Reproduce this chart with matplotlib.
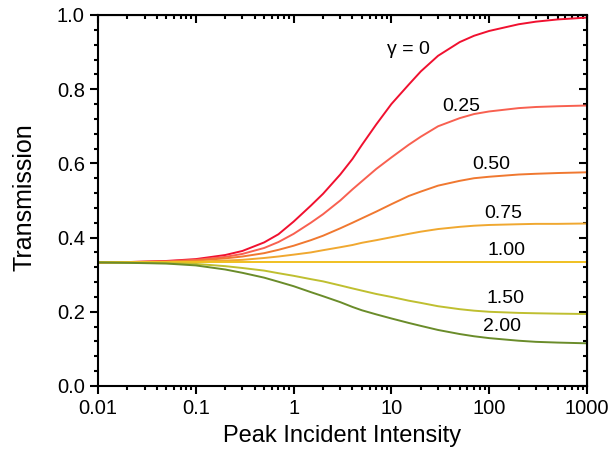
import matplotlib
matplotlib.use("Agg")
import matplotlib.pyplot as plt
from matplotlib.ticker import FixedLocator, LogLocator, NullFormatter, AutoMinorLocator

plt.rcParams['font.family'] = ['Liberation Sans', 'DejaVu Sans']

# peak incident intensity
intensity = [0.01, 0.02, 0.05, 0.1, 0.2, 0.3, 0.5, 0.7, 1, 1.5, 2, 3, 4, 5, 7,
             10, 15, 20, 30, 50, 70, 100, 200, 300, 500, 1000]

t_g000 = [0.333, 0.334, 0.337, 0.342, 0.353, 0.364, 0.387, 0.409, 0.443, 0.486, 0.518, 0.570, 0.612,
          0.650, 0.705, 0.760, 0.812, 0.848, 0.890, 0.927, 0.944, 0.957, 0.975, 0.982, 0.988, 0.993]
t_g025 = [0.333, 0.334, 0.336, 0.340, 0.348, 0.356, 0.372, 0.388, 0.410, 0.440, 0.463, 0.500, 0.530,
          0.552, 0.585, 0.616, 0.650, 0.672, 0.700, 0.722, 0.733, 0.740, 0.749, 0.752, 0.754, 0.756]
t_g050 = [0.333, 0.334, 0.335, 0.338, 0.344, 0.349, 0.358, 0.367, 0.378, 0.393, 0.405, 0.425, 0.440,
          0.452, 0.470, 0.490, 0.512, 0.524, 0.540, 0.553, 0.560, 0.564, 0.570, 0.572, 0.574, 0.576]
t_g075 = [0.333, 0.333, 0.334, 0.335, 0.338, 0.340, 0.345, 0.349, 0.354, 0.360, 0.366, 0.374, 0.380,
          0.386, 0.393, 0.401, 0.410, 0.416, 0.423, 0.429, 0.432, 0.434, 0.436, 0.437, 0.437, 0.438]
t_g100 = [0.333] * len(intensity)
t_g150 = [0.333, 0.332, 0.331, 0.329, 0.323, 0.318, 0.311, 0.304, 0.297, 0.288, 0.282, 0.271, 0.263,
          0.257, 0.248, 0.240, 0.230, 0.224, 0.215, 0.207, 0.203, 0.200, 0.197, 0.196, 0.195, 0.194]
t_g200 = [0.333, 0.332, 0.330, 0.325, 0.314, 0.305, 0.292, 0.281, 0.269, 0.253, 0.242, 0.226, 0.213,
          0.204, 0.193, 0.182, 0.170, 0.162, 0.151, 0.140, 0.134, 0.129, 0.122, 0.119, 0.117, 0.115]

series = [t_g000, t_g025, t_g050, t_g075, t_g100, t_g150, t_g200]
colors = ['#F0102F', '#F86050', '#F07830', '#F0A830', '#F0C020', '#BFBF30', '#6A8C2A']

labels = ['\u03b3 = 0', '0.25', '0.50', '0.75', '1.00', '1.50', '2.00']
label_x = [15.1, 51.5, 106, 139, 151, 146, 134]
label_y = [0.906, 0.753, 0.596, 0.464, 0.365, 0.235, 0.159]

fig = plt.figure(figsize=(6.14, 4.57), dpi=100)
ax = fig.add_axes([0.1596, 0.1554, 0.7964, 0.8118])

for ys, c in zip(series, colors):
    ax.plot(intensity, ys, color=c, lw=1.4)

for txt, lx, ly in zip(labels, label_x, label_y):
    ax.text(lx, ly, txt, fontsize=14, ha='center', va='center')

xmaj = [0.01, 0.1, 1, 10, 100, 1000]
ymaj = [0, 0.2, 0.4, 0.6, 0.8, 1.0]

ax.set_xscale('log')
ax.set_xlim(0.01, 1000)
ax.set_ylim(0, 1.0)
ax.xaxis.set_major_locator(FixedLocator(xmaj))
ax.set_xticklabels(['0.01', '0.1', '1', '10', '100', '1000'])
ax.xaxis.set_minor_locator(LogLocator(base=10, subs=range(2, 10), numticks=20))
ax.xaxis.set_minor_formatter(NullFormatter())
ax.set_yticks(ymaj)
ax.set_yticklabels(['0.0', '0.2', '0.4', '0.6', '0.8', '1.0'])
ax.yaxis.set_minor_locator(AutoMinorLocator(5))

for s in ax.spines.values():
    s.set_linewidth(1.5)

ax.tick_params(which='both', direction='out', width=1.5, labelsize=14.5, top=False, right=False)
ax.tick_params(which='major', length=6)
ax.tick_params(which='minor', length=3)

# mirrored ticks pointing in on top / right
ax2 = ax.secondary_xaxis('top')
ax2.xaxis.set_major_locator(FixedLocator(xmaj))
ax2.xaxis.set_minor_locator(LogLocator(base=10, subs=range(2, 10), numticks=20))
ax2.xaxis.set_minor_formatter(NullFormatter())
ax2.tick_params(which='both', direction='in', width=1.5, labeltop=False)
ax2.tick_params(which='major', length=6)
ax2.tick_params(which='minor', length=3)
ax2.set_xticklabels([])
ax3 = ax.secondary_yaxis('right')
ax3.set_yticks(ymaj)
ax3.yaxis.set_minor_locator(AutoMinorLocator(5))
ax3.tick_params(which='both', direction='in', width=1.5, labelright=False)
ax3.tick_params(which='major', length=6)
ax3.tick_params(which='minor', length=3)
ax3.set_yticklabels([])

ax.set_xlabel('Peak Incident Intensity', fontsize=17)
ax.set_ylabel('Transmission', fontsize=18)
ax.xaxis.set_label_coords(0.5, -0.105)
ax.yaxis.set_label_coords(-0.125, 0.508)

fig.savefig('out.png', dpi=100)
